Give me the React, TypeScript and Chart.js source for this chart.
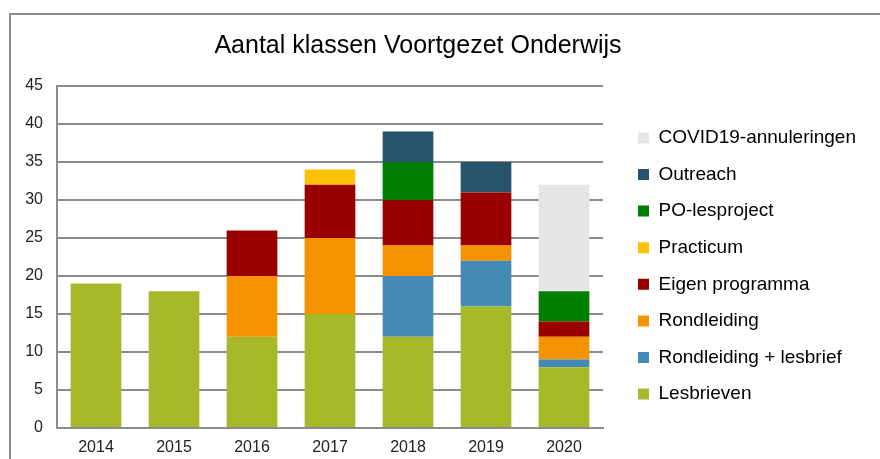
import React, { useEffect, useRef } from "react";
import { Chart, registerables } from "chart.js";

Chart.register(...registerables);

const chartTitle = "Aantal klassen Voortgezet Onderwijs";
const years = ["2014", "2015", "2016", "2017", "2018", "2019", "2020"];

const lesbrieven = [19, 18, 12, 15, 12, 16, 8];
const rondleidingLesbrief = [null, null, null, null, 8, 6, 1];
const rondleiding = [null, null, 8, 10, 4, 2, 3];
const eigenProgramma = [null, null, 6, 7, 6, 7, 2];
const practicum = [null, null, null, 2, null, null, null];
const poLesproject = [null, null, null, null, 5, null, 4];
const outreach = [null, null, null, null, 4, 4, null];
const covidAnnuleringen = [null, null, null, null, null, null, 14];

const yMin = 0;
const yMax = 45;
const yStep = 5;

const FONT = "'Liberation Sans', Arial, sans-serif";
const GRID = "#8c8c8c";
const LEGEND_FONT = 19;
const LEGEND_PAD = 17.6;
const LEGEND_WIDTH = 259.6;

const frameTitlePlugin = {
  id: "frameTitle",
  afterInit(chart: any) {
    const lg = chart.legend;
    if (lg && !lg.__patched) {
      const orig = lg.fit.bind(lg);
      lg.fit = function () {
        orig();
        this.width = LEGEND_WIDTH;
      };
      lg.__patched = true;
    }
  },
  beforeDraw(chart: any) {
    const ctx = chart.ctx;
    ctx.save();
    ctx.fillStyle = "#ffffff";
    ctx.fillRect(0, 0, chart.width, chart.height);
    ctx.strokeStyle = GRID;
    ctx.lineWidth = 2;
    ctx.beginPath();
    ctx.moveTo(10, chart.height + 2);
    ctx.lineTo(10, 14);
    ctx.lineTo(chart.width + 2, 14);
    ctx.stroke();
    ctx.restore();
  },
  afterDraw(chart: any) {
    const ctx = chart.ctx;
    ctx.save();
    ctx.fillStyle = "#000000";
    ctx.font = `25px ${FONT}`;
    ctx.textAlign = "center";
    ctx.textBaseline = "middle";
    ctx.fillText(chartTitle, 418, 46);
    ctx.restore();
  },
};

export default function App() {
  const ref = useRef<HTMLCanvasElement | null>(null);

  useEffect(() => {
    if (!ref.current) return;
    const ds = (label: string, data: (number | null)[], color: string) => ({
      label,
      data,
      backgroundColor: color,
      borderWidth: 0,
      barPercentage: 0.65,
      categoryPercentage: 1,
    });
    const chart = new Chart(ref.current, {
      type: "bar",
      data: {
        labels: years,
        datasets: [
          ds("Lesbrieven", lesbrieven, "#a7b82a"),
          ds("Rondleiding + lesbrief", rondleidingLesbrief, "#438bb5"),
          ds("Rondleiding", rondleiding, "#f59200"),
          ds("Eigen programma", eigenProgramma, "#990000"),
          ds("Practicum", practicum, "#ffc20a"),
          ds("PO-lesproject", poLesproject, "#007f00"),
          ds("Outreach", outreach, "#27546c"),
          ds("COVID19-annuleringen", covidAnnuleringen, "#e5e5e5"),
        ],
      },
      options: {
        responsive: false,
        animation: false,
        layout: { padding: { top: 73, bottom: 0, left: 0, right: 0 } },
        plugins: {
          title: { display: false },
          tooltip: { enabled: false },
          legend: {
            position: "right",
            reverse: true,
            labels: {
              boxWidth: 11,
              boxHeight: 11,
              padding: LEGEND_PAD,
              color: "#000000",
              font: { family: FONT, size: LEGEND_FONT },
            },
          },
        },
        scales: {
          x: {
            stacked: true,
            grid: { display: false, drawTicks: false },
            border: { display: true, color: GRID, width: 2 },
            ticks: {
              color: "#222222",
              padding: 10,
              font: { family: FONT, size: 16 },
            },
            afterFit: (s: any) => {
              s.height = 31;
            },
          },
          y: {
            stacked: true,
            min: yMin,
            max: yMax,
            ticks: {
              stepSize: yStep,
              color: "#222222",
              padding: 14,
              font: { family: FONT, size: 16 },
            },
            grid: { color: GRID, lineWidth: 2, drawTicks: false },
            border: { display: true, color: GRID, width: 2 },
            afterFit: (s: any) => {
              s.width = 57;
            },
          },
          gapRight: {
            type: "linear",
            position: "right",
            display: true,
            grid: { display: false, drawTicks: false },
            border: { display: false },
            ticks: { display: false },
            afterFit: (s: any) => {
              s.width = 17.4;
            },
          },
          gapTop: {
            type: "linear",
            position: "top",
            display: true,
            grid: { display: false, drawTicks: false },
            border: { display: false },
            ticks: { display: false },
            afterFit: (s: any) => {
              s.height = 13;
            },
          },
        },
      } as any,
      plugins: [frameTitlePlugin],
    });
    return () => chart.destroy();
  }, []);

  return (
    <div style={{ position: "fixed", left: 0, top: 0, width: 880, height: 459, overflow: "hidden", background: "#fff" }}>
      <canvas ref={ref} width={880} height={459} style={{ display: "block" }} />
    </div>
  );
}
